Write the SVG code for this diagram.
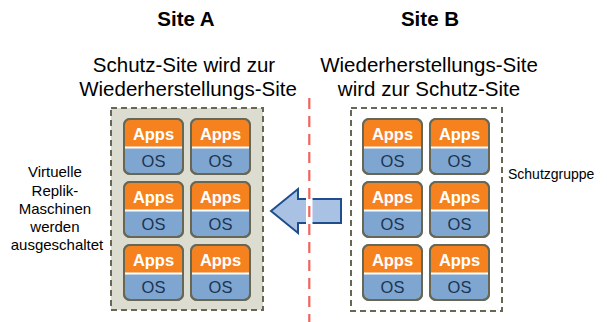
<svg xmlns="http://www.w3.org/2000/svg" width="607" height="322" viewBox="0 0 607 322">
<style>
.t{font-family:"Liberation Sans",Arial,sans-serif;fill:#000}
.h{font-weight:bold;font-size:20.5px}
.s{font-size:20.5px}
.l{font-size:15px}
.r{font-size:14px}
.cont{stroke:#676754;stroke-width:2;stroke-dasharray:6,4}
.vm{fill:#7fa6d0;stroke:#676754;stroke-width:2}
.apps{fill:#f5821f}
.sep{stroke:#fff;stroke-width:2}
.at{font-family:"Liberation Sans",Arial,sans-serif;font-weight:bold;font-size:16.5px;fill:#fff}
.ot{font-family:"Liberation Sans",Arial,sans-serif;font-size:16.5px;fill:#1b3553}
</style>
<defs>
<g id="vm">
<rect class="vm" x="0" y="0" width="59" height="55" rx="6"/>
<path class="apps" d="M1,28 V6 Q1,1 6,1 H53 Q58,1 58,6 V28 Z"/>
<line class="sep" x1="1" y1="28.5" x2="58" y2="28.5"/>
<rect x="0" y="0" width="59" height="55" rx="6" fill="none" stroke="#676754" stroke-width="2"/>
<text class="at" x="29.5" y="21" text-anchor="middle">Apps</text>
<text class="ot" x="29.5" y="48" text-anchor="middle">OS</text>
</g>
</defs>
<g id="titles">
<text class="t h" x="186" y="26" text-anchor="middle">Site A</text>
<text class="t h" x="430" y="26" text-anchor="middle">Site B</text>
<text class="t s" x="184" y="72" text-anchor="middle">Schutz-Site wird zur</text>
<text class="t s" x="188" y="96" text-anchor="middle">Wiederherstellungs-Site</text>
<text class="t s" x="429" y="72" text-anchor="middle">Wiederherstellungs-Site</text>
<text class="t s" x="429" y="96" text-anchor="middle">wird zur Schutz-Site</text>
</g>
<g id="siteA">
<rect class="cont" x="111" y="108" width="152" height="202" fill="#dcdcd0"/>
<use href="#vm" x="124" y="119"/>
<use href="#vm" x="191" y="119"/>
<use href="#vm" x="124" y="182"/>
<use href="#vm" x="191" y="182"/>
<use href="#vm" x="124" y="245"/>
<use href="#vm" x="191" y="245"/>
</g>
<g id="siteB">
<rect class="cont" x="351" y="108" width="151" height="203" fill="#fff"/>
<use href="#vm" x="363" y="119"/>
<use href="#vm" x="430" y="119"/>
<use href="#vm" x="363" y="182"/>
<use href="#vm" x="430" y="182"/>
<use href="#vm" x="363" y="245"/>
<use href="#vm" x="430" y="245"/>
</g>
<g id="label-left">
<text class="t l" text-anchor="middle">
<tspan x="57" y="177">Virtuelle</tspan>
<tspan x="57" y="195.5">Replik-</tspan>
<tspan x="57" y="214">Maschinen</tspan>
<tspan x="57" y="232">werden</tspan>
<tspan x="57" y="250">ausgeschaltet</tspan>
</text>
</g>
<g id="label-right">
<text class="t r" x="508" y="179">Schutzgruppe</text>
</g>
<g id="connectors">
<polygon points="271,211 298,189 298,199 341,199 341,223 298,223 298,233" fill="#a9c1e3" stroke="#1f4e8c" stroke-width="2" stroke-linejoin="miter"/>
<rect x="306" y="198" width="6.5" height="26" fill="#fff"/>
<line x1="309.3" y1="98" x2="309.3" y2="322" stroke="#f0645a" stroke-width="2.2" stroke-dasharray="11,7"/>
</g>
</svg>
